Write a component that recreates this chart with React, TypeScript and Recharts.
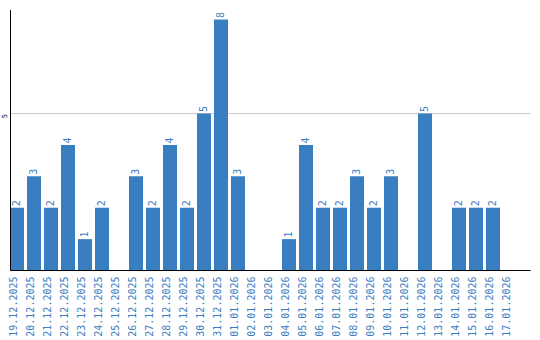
import { Bar, BarChart, CartesianGrid, LabelList, XAxis, YAxis } from 'recharts';

const days = [
  '19.12.2025', '20.12.2025', '21.12.2025', '22.12.2025', '23.12.2025', '24.12.2025',
  '25.12.2025', '26.12.2025', '27.12.2025', '28.12.2025', '29.12.2025', '30.12.2025',
  '31.12.2025', '01.01.2026', '02.01.2026', '03.01.2026', '04.01.2026', '05.01.2026',
  '06.01.2026', '07.01.2026', '08.01.2026', '09.01.2026', '10.01.2026', '11.01.2026',
  '12.01.2026', '13.01.2026', '14.01.2026', '15.01.2026', '16.01.2026', '17.01.2026',
];
const counts = [2, 3, 2, 4, 1, 2, 0, 3, 2, 4, 2, 5, 8, 3, 0, 0, 1, 4, 2, 2, 3, 2, 3, 0, 5, 0, 2, 2, 2, 0];
const yTicks = [5];
const yMax = 8.3;

const blue = '#3a7ec2';
const font = '"DejaVu Sans Mono", monospace';

const data = days.map((day, i) => ({ day, count: counts[i] }));

function DayTick(props: any) {
  const { x, y, payload } = props;
  return (
    <text
      x={x}
      y={y}
      dy={0}
      transform={`rotate(-90 ${x} ${y})`}
      textAnchor="end"
      fill={blue}
      fontSize={10}
      fontFamily={font}
    >
      {payload.value}
    </text>
  );
}

function CountTick(props: any) {
  const { y, payload } = props;
  const x = 6.7;
  const ty = y + 2.5;
  return (
    <text
      x={x}
      y={ty}
      transform={`rotate(-90 ${x} ${ty})`}
      textAnchor="middle"
      fill="#000"
      fontSize={7}
      fontFamily={font}
    >
      {payload.value}
    </text>
  );
}

function ValueLabel(props: any) {
  const { x, y, width, value } = props;
  if (!value) return null;
  const cx = x + width / 2;
  const cy = y - 1.5;
  return (
    <text
      x={cx}
      y={cy}
      dy={3.5}
      transform={`rotate(-90 ${cx} ${cy})`}
      textAnchor="start"
      fill={blue}
      fontSize={10}
      fontFamily={font}
    >
      {value}
    </text>
  );
}

// only the tick lines, no line at the top of the plot
const gridRows = (p: any) => {
  const top = p.offset.top;
  const h = p.offset.height;
  return yTicks.map((t) => top + h * (1 - t / yMax));
};

export default function App() {
  return (
    <div style={{ position: 'absolute', left: 0, top: 0, background: '#fff' }}>
      <BarChart
        width={540}
        height={340}
        data={data}
        margin={{ top: 10, right: 9.5, left: 0.5, bottom: 0 }}
        barCategoryGap={1.5}
      >
        <CartesianGrid stroke="#cccccc" vertical={false} horizontalCoordinatesGenerator={gridRows} />
        <XAxis
          dataKey="day"
          interval={0}
          height={69.5}
          padding={{ left: -2, right: 12 }}
          tickLine={false}
          tickSize={0}
          tickMargin={6}
          stroke="#000"
          tick={<DayTick />}
        />
        <YAxis
          width={10}
          domain={[0, yMax]}
          ticks={yTicks}
          tickLine={false}
          tickSize={0}
          tickMargin={4}
          stroke="#000"
          tick={<CountTick />}
        />
        <Bar dataKey="count" fill={blue} isAnimationActive={false}>
          <LabelList dataKey="count" content={<ValueLabel />} />
        </Bar>
      </BarChart>
    </div>
  );
}
